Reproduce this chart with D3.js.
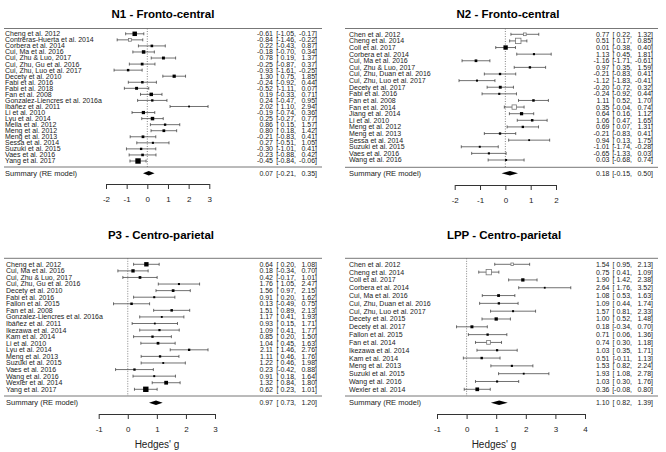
<!DOCTYPE html>
<html>
<head>
<meta charset="utf-8">
<script src="https://cdn.jsdelivr.net/npm/d3@7"></script>
<style>
  body { margin: 0; background: #fff; }
  svg { font-family: "Liberation Sans", Arial, Helvetica, sans-serif; }
</style>
</head>
<body>
<div id="chart"></div>
<script>
// N1 - Fronto-central
const n1Studies = ['Cheng et al. 2012', 'Contreras-Huerta et al. 2014', 'Corbera et al. 2014', 'Cui, Ma et al. 2016',
  'Cui, Zhu & Luo, 2017', 'Cui, Zhu, Gu et al. 2016', 'Cui, Zhu, Luo et al. 2017', 'Decety et al. 2010',
  'Fabi et al. 2016', 'Fabi et al. 2018', 'Fan et al. 2008', 'Gonzalez-Liencres et al. 2016a', 'Ibáñez et al. 2011',
  'Li et al. 2010', 'Lyu et al. 2014', 'Mella et al. 2012', 'Meng et al. 2012', 'Meng et al. 2013',
  'Sessa et al. 2014', 'Suzuki et al. 2015', 'Vaes et al. 2016', 'Yang et al. 2017'];
const n1Est = [-0.61, -0.84, 0.22, -0.18, 0.78, -0.25, -0.93, 1.30, -0.24, -0.52, 0.19, 0.24, 2.02, -0.19, 0.25, 0.86, 0.80, -0.21, 0.27, -0.30, -0.23, -0.45];
const n1Lower = [-1.05, -1.46, -0.43, -0.70, 0.19, -0.87, -1.61, 0.75, -0.92, -1.11, -0.33, -0.47, 1.10, -0.74, -0.27, 0.15, 0.18, -0.83, -0.51, -1.01, -0.88, -0.84];
const n1Upper = [-0.17, -0.22, 0.87, 0.34, 1.37, 0.37, -0.25, 1.85, 0.44, 0.07, 0.71, 0.95, 2.94, 0.36, 0.77, 1.57, 1.42, 0.41, 1.05, 0.41, 0.42, -0.06];
const n1Open = ['Contreras-Huerta et al. 2014'];
const n1Summary = [0.07, -0.21, 0.35];
const n1Ticks = [-2, -1, 0, 1, 2, 3];

// N2 - Fronto-central
const n2Studies = ['Chen et al. 2012', 'Cheng et al. 2014', 'Coll et al. 2017', 'Corbera et al. 2014', 'Cui, Ma et al. 2016',
  'Cui, Zhu & Luo, 2017', 'Cui, Zhu, Duan et al. 2016', 'Cui, Zhu, Luo et al. 2017', 'Decety et al. 2017',
  'Fabi et al. 2016', 'Fan et al. 2008', 'Fan et al. 2014', 'Jiang et al. 2014', 'Li et al. 2010', 'Meng et al. 2012',
  'Meng et al. 2013', 'Sessa et al. 2014', 'Suzuki et al. 2015', 'Vaes et al. 2016', 'Wang et al. 2016'];
const n2Est = [0.77, 0.51, 0.01, 1.13, -1.16, 0.97, -0.21, -1.12, -0.20, -0.24, 1.11, 0.35, 0.64, 1.06, 0.69, -0.21, 0.94, -1.01, -0.65, 0.03];
const n2Lower = [0.22, 0.17, -0.38, 0.45, -1.71, 0.35, -0.83, -1.83, -0.72, -0.92, 0.52, -0.04, 0.16, 0.47, 0.07, -0.83, 0.13, -1.74, -1.33, -0.68];
const n2Upper = [1.32, 0.85, 0.40, 1.81, -0.61, 1.59, 0.41, -0.41, 0.32, 0.44, 1.70, 0.74, 1.12, 1.65, 1.31, 0.41, 1.75, -0.28, 0.03, 0.74];
const n2Open = ['Chen et al. 2012', 'Cheng et al. 2014', 'Fan et al. 2014'];
const n2Summary = [0.18, -0.15, 0.50];
const n2Ticks = [-2, -1, 0, 1, 2];

// P3 - Centro-parietal
const p3Studies = ['Cheng et al. 2012', 'Cui, Ma et al. 2016', 'Cui, Zhu & Luo, 2017', 'Cui, Zhu, Gu et al. 2016',
  'Decety et al. 2010', 'Fabi et al. 2016', 'Fallon et al. 2015', 'Fan et al. 2008', 'Gonzalez-Liencres et al. 2016a',
  'Ibáñez et al. 2011', 'Ikezawa et al. 2014', 'Kam et al. 2014', 'Li et al. 2010', 'Lyu et al. 2014', 'Meng et al. 2013',
  'Suzuki et al. 2015', 'Vaes et al. 2016', 'Wang et al. 2016', 'Wexler et al. 2014', 'Yang et al. 2017'];
const p3Est = [0.64, 0.18, 0.42, 1.76, 1.56, 0.91, 0.13, 1.51, 1.17, 0.93, 1.09, 0.85, 1.04, 2.11, 1.11, 1.22, 0.23, 0.91, 1.32, 0.62];
const p3Lower = [0.20, -0.34, -0.17, 1.05, 0.97, 0.20, -0.49, 0.89, 0.41, 0.15, 0.41, 0.20, 0.45, 1.46, 0.46, 0.46, -0.42, 0.18, 0.84, 0.23];
const p3Upper = [1.08, 0.70, 1.01, 2.47, 2.15, 1.62, 0.75, 2.13, 1.93, 1.71, 1.77, 1.50, 1.63, 2.76, 1.76, 1.98, 0.88, 1.64, 1.80, 1.01];
const p3Open = [];
const p3Summary = [0.97, 0.73, 1.20];
const p3Ticks = [-1, 0, 1, 2, 3];

// LPP - Centro-parietal
const lppStudies = ['Chen et al. 2012', 'Cheng et al. 2014', 'Coll et al. 2017', 'Corbera et al. 2014', 'Cui, Ma et al. 2016',
  'Cui, Zhu, Duan et al. 2016', 'Cui, Zhu, Luo et al. 2017', 'Decety et al. 2015', 'Decety et al. 2017',
  'Fallon et al. 2015', 'Fan et al. 2014', 'Ikezawa et al. 2014', 'Kam et al. 2014', 'Meng et al. 2013',
  'Suzuki et al. 2015', 'Wang et al. 2016', 'Wexler et al. 2014'];
const lppEst = [1.54, 0.75, 1.90, 2.64, 1.08, 1.09, 1.57, 1.00, 0.18, 0.71, 0.74, 1.03, 0.51, 1.53, 1.93, 1.03, 0.36];
const lppLower = [0.95, 0.41, 1.42, 1.76, 0.53, 0.44, 0.81, 0.52, -0.34, 0.06, 0.30, 0.35, -0.11, 0.82, 1.08, 0.30, -0.08];
const lppUpper = [2.13, 1.09, 2.38, 3.52, 1.63, 1.74, 2.33, 1.48, 0.70, 1.36, 1.18, 1.71, 1.13, 2.24, 2.78, 1.76, 0.80];
const lppOpen = ['Chen et al. 2012', 'Cheng et al. 2014', 'Fan et al. 2014'];
const lppSummary = [1.10, 0.82, 1.39];
const lppTicks = [-1, 0, 1, 2, 3, 4];

const W = 666, H = 452;
const svg = d3.select('#chart').append('svg').attr('width', W).attr('height', H);

const fmt = v => v.toFixed(2);

// posicion de cada panel
const panels = [
  { title: 'N1 - Fronto-central', studies: n1Studies, est: n1Est, lo: n1Lower, hi: n1Upper, open: n1Open, summary: n1Summary, ticks: n1Ticks,
    titleX: 163, titleY: 18, left: 4, right: 322, labelX: 5, xRange: [106, 209.3], rows: [33.8, 161], topLine: 28.5, botLine: 167,
    sumY: 173.3, axisY: 184, estX: 273, loX: 296, hiX: 317, xlabX: null },
  { title: 'N2 - Fronto-central', studies: n2Studies, est: n2Est, lo: n2Lower, hi: n2Upper, open: n2Open, summary: n2Summary, ticks: n2Ticks,
    titleX: 508, titleY: 18, left: 345, right: 658, labelX: 349, xRange: [454.7, 556], rows: [34.3, 160], topLine: 28.5, botLine: 167.3,
    sumY: 173.3, axisY: 185, estX: 609.5, loX: 632, hiX: 653, xlabX: null },
  { title: 'P3 - Centro-parietal', studies: p3Studies, est: p3Est, lo: p3Lower, hi: p3Upper, open: p3Open, summary: p3Summary, ticks: p3Ticks,
    titleX: 161, titleY: 239, left: 4, right: 322, labelX: 6, xRange: [98.7, 215], rows: [264.3, 389.3], topLine: 258.3, botLine: 396,
    sumY: 402.7, axisY: 414, estX: 273, loX: 296, hiX: 317, xlabX: 157 },
  { title: 'LPP - Centro-parietal', studies: lppStudies, est: lppEst, lo: lppLower, hi: lppUpper, open: lppOpen, summary: lppSummary, ticks: lppTicks,
    titleX: 504, titleY: 239, left: 345, right: 658, labelX: 349, xRange: [437, 585], rows: [264.3, 389.3], topLine: 258.3, botLine: 396,
    sumY: 402.7, axisY: 414, estX: 609.5, loX: 632, hiX: 653, xlabX: 494 }
];

function drawPanel(p) {
  const g = svg.append('g');
  const x = d3.scaleLinear().domain([p.ticks[0], p.ticks[p.ticks.length - 1]]).range(p.xRange);
  const y = d3.scaleLinear().domain([0, p.studies.length - 1]).range(p.rows);

  // pesos -> tamaño del cuadrado
  const w = p.studies.map((s, i) => 1 / Math.pow((p.hi[i] - p.lo[i]) / 3.92, 2));
  const wMin = d3.min(w), wMax = d3.max(w);
  const side = i => 1.8 + 3.6 * (w[i] - wMin) / (wMax - wMin);

  g.append('text')
    .attr('x', p.titleX).attr('y', p.titleY)
    .attr('text-anchor', 'middle')
    .style('font-size', '11.5px').style('font-weight', 'bold')
    .text(p.title);

  [p.topLine, p.botLine].forEach(yy => {
    g.append('line')
      .attr('x1', p.left).attr('x2', p.right).attr('y1', yy).attr('y2', yy)
      .attr('stroke', '#777').attr('stroke-width', 1);
  });

  // linea de referencia en 0
  g.append('line')
    .attr('x1', x(0)).attr('x2', x(0)).attr('y1', p.topLine).attr('y2', p.botLine)
    .attr('stroke', '#666').attr('stroke-width', 0.8).attr('stroke-dasharray', '1,1.5');

  const idx = d3.range(p.studies.length);

  // intervalos de confianza
  g.selectAll('.ci').data(idx).enter().append('line')
    .attr('x1', i => x(p.lo[i])).attr('x2', i => x(p.hi[i]))
    .attr('y1', i => y(i)).attr('y2', i => y(i))
    .attr('stroke', '#333').attr('stroke-width', 0.7);
  ['lo', 'hi'].forEach(k => {
    g.selectAll('.cap-' + k).data(idx).enter().append('line')
      .attr('x1', i => x(p[k][i])).attr('x2', i => x(p[k][i]))
      .attr('y1', i => y(i) - 1.5).attr('y2', i => y(i) + 1.5)
      .attr('stroke', '#333').attr('stroke-width', 0.7);
  });

  g.selectAll('.pt').data(idx).enter().append('rect')
    .attr('x', i => x(p.est[i]) - side(i) / 2)
    .attr('y', i => y(i) - side(i) / 2)
    .attr('width', side).attr('height', side)
    .attr('fill', i => p.open.includes(p.studies[i]) ? '#fff' : '#000')
    .attr('stroke', i => p.open.includes(p.studies[i]) ? '#777' : 'none')
    .attr('stroke-width', 0.8);

  // etiquetas de estudios
  g.selectAll('.lab').data(idx).enter().append('text')
    .attr('x', p.labelX).attr('y', i => y(i)).attr('dy', '0.35em')
    .style('font-size', '7px').style('fill', '#222')
    .text(i => p.studies[i]);

  // columna de valores
  const valRows = idx.map(i => [p.est[i], p.lo[i], p.hi[i], y(i)]);
  valRows.push([p.summary[0], p.summary[1], p.summary[2], p.sumY]);
  const vg = g.selectAll('.val').data(valRows).enter().append('g')
    .style('font-size', '7px').style('fill', '#222');
  vg.append('text').attr('x', p.estX).attr('y', d => d[3]).attr('dy', '0.35em')
    .attr('text-anchor', 'end').text(d => fmt(d[0]));
  vg.append('text').attr('x', p.loX).attr('y', d => d[3]).attr('dy', '0.35em')
    .attr('text-anchor', 'end').text(d => '[' + (d[1] >= 0 ? ' ' : '') + fmt(d[1]) + ',');
  vg.append('text').attr('x', p.hiX).attr('y', d => d[3]).attr('dy', '0.35em')
    .attr('text-anchor', 'end').text(d => fmt(d[2]) + ']');

  // resumen
  g.append('text')
    .attr('x', p.labelX).attr('y', p.sumY).attr('dy', '0.35em')
    .style('font-size', '7.5px').style('fill', '#222')
    .text('Summary (RE model)');
  const [se, sl, sh] = p.summary;
  g.append('path')
    .attr('d', `M${x(sl)},${p.sumY}L${x(se)},${p.sumY - 2.3}L${x(sh)},${p.sumY}L${x(se)},${p.sumY + 2.3}Z`)
    .attr('fill', '#000');

  // eje x
  const ax = g.append('g')
    .attr('transform', `translate(0,${p.axisY})`)
    .call(d3.axisBottom(x).tickValues(p.ticks).tickSize(5).tickSizeOuter(0).tickPadding(7).tickFormat(d => String(d)));
  ax.select('.domain').attr('stroke', '#333');
  ax.selectAll('.tick line').attr('stroke', '#333');
  ax.selectAll('text').style('font-size', '8px').style('fill', '#222')
    .style('font-family', '"Liberation Sans", Arial, sans-serif');

  if (p.xlabX !== null) {
    g.append('text')
      .attr('x', p.xlabX).attr('y', p.axisY + 34)
      .attr('text-anchor', 'middle')
      .style('font-size', '10px').style('fill', '#222')
      .text("Hedges' g");
  }
}

panels.forEach(drawPanel);
</script>
</body>
</html>
